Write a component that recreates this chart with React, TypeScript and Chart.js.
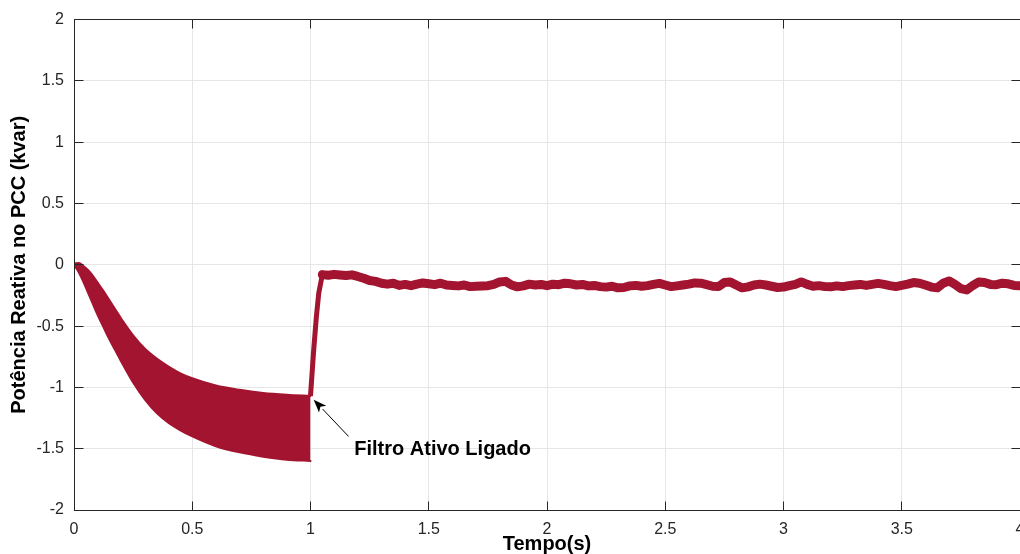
import { useEffect, useRef } from "react";
import { Chart, registerables } from "chart.js";

Chart.register(...registerables);

const LINE_COLOR = "#A2142F";
const AXIS_COLOR = "#262626";
const GRID_COLOR = "#e6e6e6";
const FONT = "'Liberation Sans', Arial, Helvetica, sans-serif";

const xTicks = [0, 0.5, 1, 1.5, 2, 2.5, 3, 3.5, 4];
const yTicks = [-2, -1.5, -1, -0.5, 0, 0.5, 1, 1.5, 2];

// Before the filter is switched on: upper and lower envelope of the oscillation
const envTime = [0, 0.02, 0.04, 0.06, 0.08, 0.1, 0.125, 0.15, 0.175, 0.2, 0.25, 0.3, 0.35, 0.4, 0.45, 0.5, 0.6, 0.7, 0.8, 0.9, 1.0];
const envUpper = [0.01, 0.015, -0.01, -0.045, -0.09, -0.145, -0.215, -0.29, -0.365, -0.44, -0.575, -0.685, -0.765, -0.83, -0.885, -0.925, -0.985, -1.02, -1.045, -1.06, -1.07];
const envLower = [0, -0.06, -0.14, -0.23, -0.32, -0.41, -0.51, -0.61, -0.7, -0.79, -0.96, -1.1, -1.21, -1.29, -1.35, -1.4, -1.48, -1.53, -1.565, -1.59, -1.6];

// Transient right after the filter is switched on
const riseTime = [1.0, 1.0135, 1.025, 1.035, 1.05];
const riseValue = [-1.07, -0.695, -0.42, -0.23, -0.08];

// Compensated reactive power
const steadyTime = [
  1.05, 1.075, 1.1, 1.125, 1.15, 1.175, 1.2, 1.225, 1.25, 1.275,
  1.3, 1.325, 1.35, 1.375, 1.4, 1.425, 1.45, 1.475, 1.5, 1.525,
  1.55, 1.575, 1.6, 1.625, 1.65, 1.675, 1.7, 1.725, 1.75, 1.775,
  1.8, 1.825, 1.85, 1.875, 1.9, 1.925, 1.95, 1.975, 2.0, 2.025,
  2.05, 2.075, 2.1, 2.125, 2.15, 2.175, 2.2, 2.225, 2.25, 2.275,
  2.3, 2.325, 2.35, 2.375, 2.4, 2.425, 2.45, 2.475, 2.5, 2.525,
  2.55, 2.575, 2.6, 2.625, 2.65, 2.675, 2.7, 2.725, 2.75, 2.775,
  2.8, 2.825, 2.85, 2.875, 2.9, 2.925, 2.95, 2.975, 3.0, 3.025,
  3.05, 3.075, 3.1, 3.125, 3.15, 3.175, 3.2, 3.225, 3.25, 3.275,
  3.3, 3.325, 3.35, 3.375, 3.4, 3.425, 3.45, 3.475, 3.5, 3.525,
  3.55, 3.575, 3.6, 3.625, 3.65, 3.675, 3.7, 3.725, 3.75, 3.775,
  3.8, 3.825, 3.85, 3.875, 3.9, 3.925, 3.95, 3.975, 4.0,
];
const steadyValue = [
  -0.08, -0.085, -0.078, -0.083, -0.088, -0.082, -0.095, -0.11, -0.128, -0.135,
  -0.15, -0.158, -0.15, -0.168, -0.16, -0.17, -0.158, -0.148, -0.155, -0.162,
  -0.15, -0.165, -0.168, -0.172, -0.165, -0.178, -0.175, -0.172, -0.17, -0.16,
  -0.14, -0.135, -0.165, -0.18, -0.172, -0.158, -0.165, -0.16, -0.17, -0.158,
  -0.162, -0.15, -0.155, -0.165, -0.16, -0.172, -0.168, -0.178, -0.182, -0.175,
  -0.188, -0.185, -0.172, -0.168, -0.175, -0.17, -0.16, -0.152, -0.165, -0.178,
  -0.172, -0.165, -0.158, -0.148, -0.15, -0.162, -0.175, -0.178, -0.145, -0.14,
  -0.165, -0.188, -0.18, -0.165, -0.158, -0.165, -0.175, -0.185, -0.182, -0.17,
  -0.16, -0.14, -0.16, -0.175, -0.17, -0.178, -0.18, -0.172, -0.178, -0.17,
  -0.165, -0.16, -0.168, -0.16, -0.152, -0.16, -0.17, -0.178, -0.168, -0.158,
  -0.145, -0.15, -0.165, -0.182, -0.188, -0.15, -0.132, -0.16, -0.195, -0.205,
  -0.17, -0.14, -0.145, -0.16, -0.162, -0.15, -0.155, -0.168, -0.17,
];

// Annotation: arrow from the label to the switching instant
const annotationText = "Filtro Ativo Ligado";
const arrowTip = { x: 1.0135, y: -1.1 };
const arrowTail = { x: 1.161, y: -1.4 };
const labelAnchor = { x: 1.185, y: -1.51 };

const toPoints = (xs: number[], ys: number[]) => xs.map((x, i) => ({ x, y: ys[i] }));

const align = (p: number) => Math.round(p - 0.5) + 0.5;

const frameAndAnnotation = {
  id: "frameAndAnnotation",
  afterDatasetsDraw(chart: any) {
    const { ctx, chartArea, scales } = chart;
    const l = align(chartArea.left);
    const r = align(chartArea.right);
    const t = align(chartArea.top);
    const b = align(chartArea.bottom);
    const tick = 9;
    ctx.save();
    ctx.strokeStyle = AXIS_COLOR;
    ctx.lineWidth = 1;
    ctx.beginPath();
    for (const v of xTicks) {
      const px = align(scales.x.getPixelForValue(v));
      ctx.moveTo(px, b);
      ctx.lineTo(px, b - tick);
      ctx.moveTo(px, t);
      ctx.lineTo(px, t + tick);
    }
    for (const v of yTicks) {
      const py = align(scales.y.getPixelForValue(v));
      ctx.moveTo(l, py);
      ctx.lineTo(l + tick, py);
      ctx.moveTo(r, py);
      ctx.lineTo(r - tick, py);
    }
    ctx.stroke();
    ctx.strokeRect(l, t, r - l, b - t);

    // arrow
    const tx = scales.x.getPixelForValue(arrowTip.x);
    const ty = scales.y.getPixelForValue(arrowTip.y);
    const sx = scales.x.getPixelForValue(arrowTail.x);
    const sy = scales.y.getPixelForValue(arrowTail.y);
    const ang = Math.atan2(ty - sy, tx - sx);
    const headLen = 13;
    const headHalf = 5;
    const bx = tx - headLen * Math.cos(ang);
    const by = ty - headLen * Math.sin(ang);
    ctx.strokeStyle = "#000";
    ctx.lineWidth = 1;
    ctx.beginPath();
    ctx.moveTo(sx, sy);
    ctx.lineTo(bx, by);
    ctx.stroke();
    ctx.fillStyle = "#000";
    ctx.beginPath();
    ctx.moveTo(tx, ty);
    ctx.lineTo(bx + headHalf * Math.sin(ang), by - headHalf * Math.cos(ang));
    ctx.lineTo(tx - headLen * 0.75 * Math.cos(ang), ty - headLen * 0.75 * Math.sin(ang));
    ctx.lineTo(bx - headHalf * Math.sin(ang), by + headHalf * Math.cos(ang));
    ctx.closePath();
    ctx.fill();

    ctx.font = `bold 20px ${FONT}`;
    ctx.textAlign = "left";
    ctx.textBaseline = "middle";
    ctx.fillText(
      annotationText,
      scales.x.getPixelForValue(labelAnchor.x),
      scales.y.getPixelForValue(labelAnchor.y)
    );
    ctx.restore();
  },
};

export default function App() {
  const ref = useRef<HTMLCanvasElement | null>(null);

  useEffect(() => {
    if (!ref.current) return;
    const chart = new Chart(ref.current, {
      type: "line",
      data: {
        datasets: [
          {
            data: toPoints(envTime, envUpper),
            borderColor: LINE_COLOR,
            borderWidth: 2,
            pointRadius: 0,
            fill: false,
            cubicInterpolationMode: "monotone",
            borderCapStyle: "round",
          },
          {
            data: toPoints(envTime, envLower),
            borderColor: LINE_COLOR,
            backgroundColor: LINE_COLOR,
            borderWidth: 2,
            pointRadius: 0,
            fill: "-1",
            cubicInterpolationMode: "monotone",
            borderCapStyle: "round",
          },
          {
            data: toPoints(riseTime, riseValue),
            borderColor: LINE_COLOR,
            borderWidth: 5,
            pointRadius: 0,
            fill: false,
            borderJoinStyle: "round",
          },
          {
            data: toPoints(steadyTime, steadyValue),
            borderColor: LINE_COLOR,
            borderWidth: 9,
            pointRadius: 0,
            fill: false,
            borderJoinStyle: "round",
            borderCapStyle: "round",
          },
        ],
      },
      options: {
        animation: false,
        responsive: true,
        maintainAspectRatio: false,
        layout: { padding: { top: 19, right: 20, left: 0, bottom: 0 } },
        plugins: { legend: { display: false }, tooltip: { enabled: false } },
        scales: {
          x: {
            type: "linear",
            min: 0,
            max: 4,
            afterFit: (s: any) => {
              s.height = 44;
            },
            afterBuildTicks: (s: any) => {
              s.ticks = xTicks.map((v) => ({ value: v }));
            },
            ticks: {
              color: AXIS_COLOR,
              padding: 10,
              font: { family: FONT, size: 16 },
              callback: (v: any) => String(v),
            },
            grid: { color: GRID_COLOR, drawTicks: false },
            border: { display: false },
            title: {
              display: true,
              text: "Tempo(s)",
              color: "#000",
              font: { family: FONT, size: 20, weight: "bold", lineHeight: 1 },
              padding: { top: 0, bottom: 0 },
            },
          },
          y: {
            type: "linear",
            min: -2,
            max: 2,
            afterFit: (s: any) => {
              s.width = 74;
            },
            afterBuildTicks: (s: any) => {
              s.ticks = yTicks.map((v) => ({ value: v }));
            },
            ticks: {
              color: AXIS_COLOR,
              padding: 10,
              font: { family: FONT, size: 16 },
              callback: (v: any) => String(v),
            },
            grid: { color: GRID_COLOR, drawTicks: false },
            border: { display: false },
            title: {
              display: true,
              text: "Potência Reativa no PCC (kvar)",
              color: "#000",
              font: { family: FONT, size: 20, weight: "bold", lineHeight: 1 },
              padding: { top: 9, bottom: 0 },
            },
          },
        },
      },
      plugins: [frameAndAnnotation],
    });
    return () => chart.destroy();
  }, []);

  return (
    <div
      style={{
        position: "fixed",
        left: 0,
        top: 0,
        width: "100vw",
        height: "100vh",
        overflow: "hidden",
        background: "#fff",
      }}
    >
      <div style={{ position: "absolute", left: 0, top: 0, width: 1040, height: 554 }}>
        <canvas ref={ref} />
      </div>
    </div>
  );
}
